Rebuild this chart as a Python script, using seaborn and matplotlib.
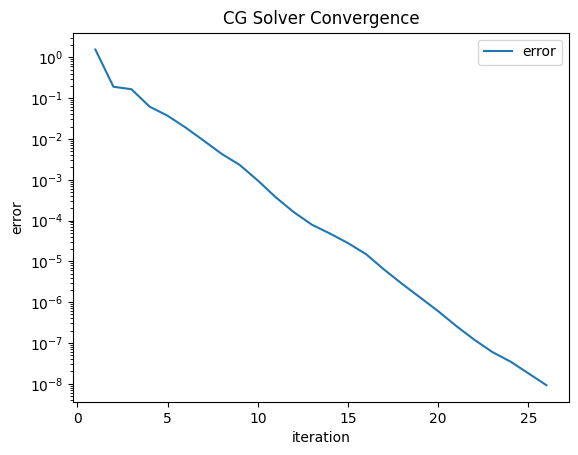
import matplotlib
matplotlib.use("Agg")
import matplotlib.pyplot as plt
import seaborn as sns
import pandas as pd

iterations = list(range(1, 27))
errors = [1.55, 0.19, 0.165, 0.062, 0.037, 0.019, 0.0091, 0.0043, 0.0023, 0.00096,
          3.7e-4, 1.6e-4, 7.9e-5, 4.8e-5, 2.8e-5, 1.5e-5, 6.3e-6, 2.8e-6, 1.3e-6, 6.0e-7,
          2.6e-7, 1.2e-7, 6.0e-8, 3.5e-8, 1.8e-8, 9.2e-9]

df = pd.DataFrame({"iteration": iterations, "error": errors})

fig, ax = plt.subplots(figsize=(5.78, 4.55), dpi=100)
fig.subplots_adjust(left=0.126, right=0.9844, top=0.928, bottom=0.1165)
sns.lineplot(data=df, x="iteration", y="error", label="error", ax=ax, color="#1f77b4")
ax.set_yscale("log")
ax.set_title("CG Solver Convergence")
ax.set_xlabel("iteration")
ax.set_ylabel("error")
ax.legend(loc="upper right")
fig.savefig("out.png", dpi=100)
